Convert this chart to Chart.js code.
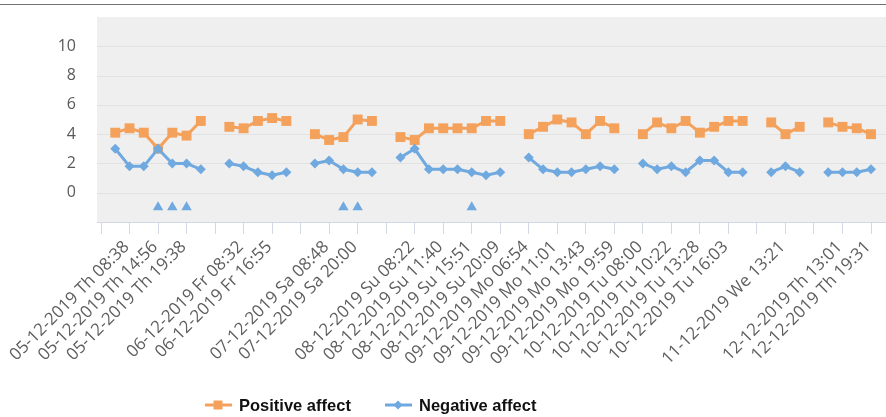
<!DOCTYPE html>
<html>
<head>
<meta charset="utf-8">
<script src="https://cdn.jsdelivr.net/npm/chart.js@4.4.1/dist/chart.umd.min.js"></script>
<style>
  html, body { margin: 0; padding: 0; background: #ffffff; }
  #wrap { width: 886px; height: 417px; position: relative; }
</style>
</head>
<body>
<div id="wrap"><canvas id="affect"></canvas></div>
<script>
// Measurement moments (one category per slot; blank slots separate the days
// or carry a timestamp that is not printed on the axis).
const categories = [
  '', '', '05-12-2019 Th 08:38', '', '05-12-2019 Th 14:56', '', '05-12-2019 Th 19:38', '',
  '', '', '06-12-2019 Fr 08:32', '', '06-12-2019 Fr 16:55', '',
  '', '', '07-12-2019 Sa 08:48', '', '07-12-2019 Sa 20:00', '',
  '', '', '08-12-2019 Su 08:22', '', '08-12-2019 Su 11:40', '', '08-12-2019 Su 15:51', '', '08-12-2019 Su 20:09',
  '', '09-12-2019 Mo 06:54', '', '09-12-2019 Mo 11:01', '', '09-12-2019 Mo 13:43', '', '09-12-2019 Mo 19:59',
  '', '10-12-2019 Tu 08:00', '', '10-12-2019 Tu 10:22', '', '10-12-2019 Tu 13:28', '', '10-12-2019 Tu 16:03', '',
  '', '', '11-12-2019 We 13:21', '',
  '', '', '12-12-2019 Th 13:01', '', '12-12-2019 Th 19:31'
];

const positiveAffect = [
  null, 4.1, 4.4, 4.1, 3.0, 4.1, 3.9, 4.9,
  null, 4.5, 4.4, 4.9, 5.1, 4.9,
  null, 4.0, 3.6, 3.8, 5.0, 4.9,
  null, 3.8, 3.6, 4.4, 4.4, 4.4, 4.4, 4.9, 4.9,
  null, 4.0, 4.5, 5.0, 4.8, 4.0, 4.9, 4.4,
  null, 4.0, 4.8, 4.4, 4.9, 4.1, 4.5, 4.9, 4.9,
  null, 4.8, 4.0, 4.5,
  null, 4.8, 4.5, 4.4, 4.0
];

const negativeAffect = [
  null, 3.0, 1.8, 1.8, 3.0, 2.0, 2.0, 1.6,
  null, 2.0, 1.8, 1.4, 1.2, 1.4,
  null, 2.0, 2.2, 1.6, 1.4, 1.4,
  null, 2.4, 3.0, 1.6, 1.6, 1.6, 1.4, 1.2, 1.4,
  null, 2.4, 1.6, 1.4, 1.4, 1.6, 1.8, 1.6,
  null, 2.0, 1.6, 1.8, 1.4, 2.2, 2.2, 1.4, 1.4,
  null, 1.4, 1.8, 1.4,
  null, 1.4, 1.4, 1.4, 1.6
];

// Event markers shown below the zero line.
const eventMarks = [
  null, null, null, null, -1, -1, -1, null,
  null, null, null, null, null, null,
  null, null, null, -1, -1, null,
  null, null, null, null, null, null, -1, null, null,
  null, null, null, null, null, null, null, null,
  null, null, null, null, null, null, null, null, null,
  null, null, null, null,
  null, null, null, null, null
];

const yTickValues = [0, 2, 4, 6, 8, 10];

const ORANGE = '#f4a15c';
const BLUE = '#6fa9e0';
const TICK_FONT = "'Open Sans', 'DejaVu Sans', sans-serif";

// Grey plot panel, horizontal grid, axis rule and the thin line along the top.
const panel = {
  id: 'panel',
  beforeDraw(chart) {
    const { ctx, chartArea: a, scales: { y } } = chart;
    const left = a.left - 4;
    ctx.save();
    ctx.fillStyle = '#efefef';
    ctx.fillRect(left, a.top, chart.width - left, a.bottom - a.top);
    ctx.lineWidth = 1;
    ctx.strokeStyle = '#e2e2e2';
    yTickValues.forEach(v => {
      const py = Math.round(y.getPixelForValue(v)) + 0.5;
      ctx.beginPath();
      ctx.moveTo(left, py);
      ctx.lineTo(chart.width, py);
      ctx.stroke();
    });
    ctx.strokeStyle = '#d3d7e6';
    const by = Math.round(a.bottom) + 0.5;
    ctx.beginPath();
    ctx.moveTo(left, by);
    ctx.lineTo(chart.width, by);
    ctx.stroke();
    ctx.strokeStyle = '#707070';
    ctx.beginPath();
    ctx.moveTo(0, 4.5);
    ctx.lineTo(chart.width, 4.5);
    ctx.stroke();
    ctx.restore();
  }
};

// Key below the axis labels: line sample with its marker, then the series name.
const KEY_X = [205, 385];
const key = {
  id: 'key',
  afterDraw(chart) {
    const { ctx } = chart;
    const cy = 405;
    ctx.save();
    ctx.font = "bold 16.5px 'Liberation Sans', Arial, sans-serif";
    ctx.textBaseline = 'middle';
    chart.data.datasets.filter(ds => ds.inKey).forEach((ds, i) => {
      const x = KEY_X[i];
      const mid = x + 13;
      ctx.strokeStyle = ds.borderColor;
      ctx.lineWidth = 3;
      ctx.beginPath();
      ctx.moveTo(x, cy);
      ctx.lineTo(x + 27, cy);
      ctx.stroke();
      ctx.fillStyle = ds.backgroundColor;
      ctx.beginPath();
      if (ds.pointStyle === 'rect') {
        ctx.rect(mid - 4.5, cy - 4.5, 9, 9);
      } else {
        ctx.moveTo(mid, cy - 4.5);
        ctx.lineTo(mid + 4.5, cy);
        ctx.lineTo(mid, cy + 4.5);
        ctx.lineTo(mid - 4.5, cy);
        ctx.closePath();
      }
      ctx.fill();
      ctx.fillStyle = '#111111';
      ctx.fillText(ds.label, x + 34, cy + 1);
    });
    ctx.restore();
  }
};

function noMargins(scale) {
  scale.paddingTop = 0;
  scale.paddingBottom = 0;
  scale.paddingLeft = 0;
  scale.paddingRight = 0;
}

new Chart(document.getElementById('affect'), {
  type: 'line',
  data: {
    labels: categories,
    datasets: [
      {
        label: 'Positive affect',
        inKey: true,
        data: positiveAffect,
        borderColor: ORANGE,
        backgroundColor: ORANGE,
        borderWidth: 3,
        pointStyle: 'rect',
        pointRadius: 7,
        pointBorderWidth: 0,
        spanGaps: false,
        order: 1
      },
      {
        label: 'Negative affect',
        inKey: true,
        data: negativeAffect,
        borderColor: BLUE,
        backgroundColor: BLUE,
        borderWidth: 3,
        pointStyle: 'rectRot',
        pointRadius: 5,
        pointBorderWidth: 0,
        spanGaps: false,
        order: 0
      },
      {
        label: 'Events',
        inKey: false,
        data: eventMarks,
        showLine: false,
        borderColor: BLUE,
        backgroundColor: BLUE,
        pointStyle: 'triangle',
        pointRadius: 6,
        pointBorderWidth: 0,
        order: 0
      }
    ]
  },
  options: {
    responsive: true,
    maintainAspectRatio: false,
    animation: false,
    layout: { padding: { top: 17, right: 15, left: 0, bottom: 0 } },
    plugins: {
      legend: { display: false },
      tooltip: { enabled: false }
    },
    scales: {
      x: {
        offset: false,
        afterFit(scale) { scale.height = 195; noMargins(scale); },
        border: { display: false },
        grid: {
          drawOnChartArea: false,
          tickLength: 12,
          color: c => (c.index % 2 === 0 ? '#d3d7e6' : 'rgba(0,0,0,0)')
        },
        ticks: {
          autoSkip: false,
          minRotation: 45,
          maxRotation: 45,
          padding: 3,
          labelOffset: -3,
          color: '#5e5e5e',
          font: { family: TICK_FONT, size: 17 }
        }
      },
      y: {
        min: -2,
        max: 12,
        afterFit(scale) { scale.width = 101; noMargins(scale); },
        border: { display: false },
        grid: { display: false, drawTicks: false },
        ticks: {
          stepSize: 2,
          padding: 25,
          color: '#595959',
          font: { family: TICK_FONT, size: 16 },
          callback: v => (yTickValues.includes(v) ? String(v) : '')
        }
      }
    }
  },
  plugins: [panel, key]
});
</script>
</body>
</html>
